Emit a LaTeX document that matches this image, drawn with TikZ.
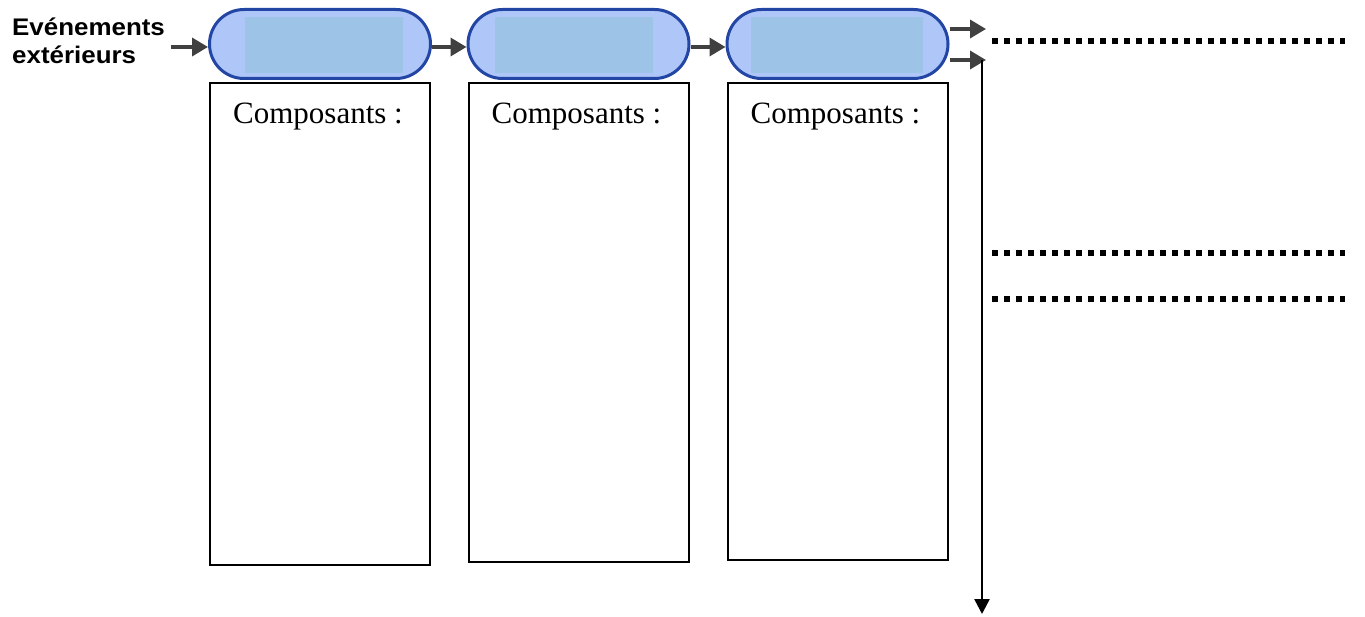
\documentclass[tikz,border=0pt]{standalone}
\usepackage{fontspec}
\setmainfont{Liberation Serif}
\newfontfamily\evtfont[FakeStretch=1.08]{Liberation Sans}
\usetikzlibrary{shapes.misc,arrows.meta,positioning}
\definecolor{pillblue}{RGB}{174,198,248}
\definecolor{pilledge}{RGB}{35,70,165}
\definecolor{slotblue}{RGB}{157,195,230}
\definecolor{arrowgray}{RGB}{64,64,64}
\tikzset{
  stage/.style={rounded rectangle, draw=pilledge, fill=pillblue, line width=3pt,
                minimum width=221pt, minimum height=69pt, inner sep=0pt},
  slot/.style={rectangle, fill=slotblue, inner sep=0pt, minimum height=56pt},
  compbox/.style={rectangle, draw=black, line width=2pt, minimum width=220pt,
                  inner sep=0pt, anchor=north},
  comptext/.style={font=\fontsize{31}{37}\selectfont, inner sep=0pt, anchor=base},
  evtlabel/.style={font=\evtfont\bfseries\fontsize{24}{28}\selectfont,
                   align=left, anchor=north west, inner sep=0pt},
  garrow/.style={-{Triangle[length=16pt,width=18pt]}, line width=3.5pt, draw=arrowgray},
  barrow/.style={-{Triangle[length=15pt,width=15pt]}, line width=2.5pt, draw=black},
  dotrow/.style={line width=5.5pt, dash pattern=on 5.5pt off 6.5pt}
}

\begin{document}
\begin{tikzpicture}[x=1pt, y=-1pt]
\useasboundingbox (0,0) rectangle (1365,617);
% three stages, each with its list of components underneath
\foreach \i/\cx/\sx/\sw/\bh in {1/320/324/158/482,
                               2/578.5/574/158/479,
                               3/837.5/837/172/477}{
  \node[compbox, minimum height=\bh pt] (b\i) at (\cx,82) {};
  \node[stage] (p\i) at (\cx,44) {};
  \node[slot, minimum width=\sw pt] (s\i) at (\sx,45) {};
  \node[comptext] (t\i) at (\cx-2,124) {Composants :};
}
\node[evtlabel] (evt) at (12,18) {Evénements\\extérieurs};
\coordinate (start) at (171,47);
\draw[garrow] (start) -- (p1.west |- start);
\draw[garrow] (p1.east |- start) -- (p2.west |- start);
\draw[garrow] (p2.east |- start) -- (p3.west |- start);
% outputs of the last stage
\coordinate (next) at (986,29);
\coordinate (back) at (986,60);
\coordinate (bottom) at (982,614);
\draw[garrow] (p3.east |- next) -- (next);
\draw[garrow] (p3.east |- back) -- (back);
\draw[barrow] (back -| bottom) -- (bottom);
\foreach \y in {41,253,299}
  \draw[dotrow] (992,\y) -- (1345,\y);
\end{tikzpicture}
\end{document}
